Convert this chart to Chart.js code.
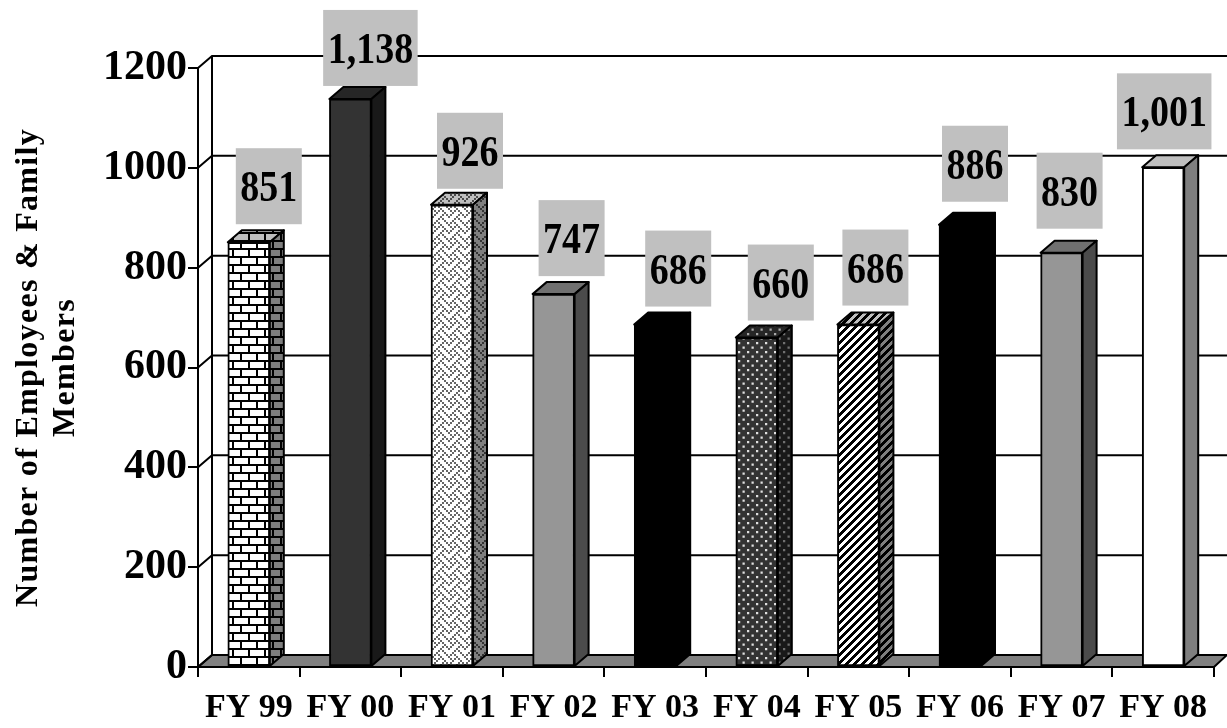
<!DOCTYPE html>
<html>
<head>
<meta charset="utf-8">
<title>Number of Employees & Family Members</title>
<script src="https://cdn.jsdelivr.net/npm/chart.js@4"></script>
<style>
  html, body { margin: 0; padding: 0; background: #fff; overflow: hidden; }
  canvas { display: block; }
</style>
</head>
<body>
<canvas id="chart" width="1227" height="728"></canvas>
<script>
const categories = ["FY 99", "FY 00", "FY 01", "FY 02", "FY 03", "FY 04", "FY 05", "FY 06", "FY 07", "FY 08"];
const employees = [851, 1138, 926, 747, 686, 660, 686, 886, 830, 1001];
const axisTitle = ["Number of Employees & Family", "Members"];
const fillNames = ["brick", "charcoal", "weave", "grey", "black", "dots", "stripes", "black", "grey", "white"];

const SERIF = '"Liberation Serif", "Times New Roman", serif';
const DEPTH_X = 14;
const DEPTH_Y = 12;
// value-label boxes do not sit centred over the bars in the original
const labelShiftX = [20, 20, 18, 18, 23, 24, 17, 15, 8, 1];
const labelGap = [18, 13, 16, 18, 18, 17, 19, 23, 24, 18];

// 1-bit tile, stretched to `size` px and softened a little, wrapping at the edges
function bitPattern(rows, bits, size, fg, bg, blur) {
  const cell = size / bits;
  const tile = document.createElement("canvas");
  tile.width = tile.height = size * 3;
  const t = tile.getContext("2d");
  t.fillStyle = bg;
  t.fillRect(0, 0, size * 3, size * 3);
  t.fillStyle = fg;
  for (let ox = 0; ox < 3; ox++) {
    for (let oy = 0; oy < 3; oy++) {
      rows.forEach((row, r) => {
        for (let b = 0; b < bits; b++) {
          if (row & (1 << (bits - 1 - b))) {
            t.fillRect(ox * size + b * cell, oy * size + r * cell, cell, cell);
          }
        }
      });
    }
  }
  const out = document.createElement("canvas");
  out.width = out.height = size;
  const o = out.getContext("2d");
  o.filter = `blur(${blur}px)`;
  o.drawImage(tile, -size, -size);
  return o.createPattern(out, "repeat");
}

const ctx = document.getElementById("chart").getContext("2d");
const fills = {
  brick: bitPattern([0xff, 0x80, 0x80, 0x80, 0xff, 0x08, 0x08, 0x08], 8, 16, "#000", "#fff", 0.4),
  weave: bitPattern([0x88, 0x54, 0x22, 0x45, 0x88, 0x14, 0x22, 0x51], 8, 16, "#666", "#fff", 0.3),
  dots: bitPattern([0x8, 0x0, 0x2, 0x0], 4, 9, "#e0e0e0", "#333", 0.5),
  stripes: bitPattern([0x0f, 0x1e, 0x3c, 0x78, 0xf0, 0xe1, 0xc3, 0x87], 8, 8, "#000", "#fff", 0.6),
  charcoal: "#333333",
  grey: "#969696",
  black: "#000000",
  white: "#ffffff",
};

function polygon(c, pts) {
  c.beginPath();
  pts.forEach(([x, y], i) => (i ? c.lineTo(x, y) : c.moveTo(x, y)));
  c.closePath();
}

// side walls, floor and back-wall grid of the fake 3D box
const wallsPlugin = {
  id: "walls",
  beforeDatasetsDraw(chart) {
    const c = chart.ctx;
    const { left, right, top, bottom } = chart.chartArea;
    const y = chart.scales.y;
    c.save();
    c.strokeStyle = "#000";
    c.lineWidth = 2;
    polygon(c, [
      [left, bottom],
      [left + DEPTH_X, bottom - DEPTH_Y],
      [chart.width, bottom - DEPTH_Y],
      [right, bottom],
    ]);
    c.fillStyle = "#808080";
    c.fill();
    c.stroke();
    c.beginPath();
    c.moveTo(left + DEPTH_X, top - DEPTH_Y);
    c.lineTo(left + DEPTH_X, bottom - DEPTH_Y);
    y.ticks.forEach((t) => {
      const py = y.getPixelForValue(t.value);
      c.moveTo(left, py);
      c.lineTo(left + DEPTH_X, py - DEPTH_Y);
      c.lineTo(chart.width, py - DEPTH_Y);
    });
    c.stroke();
    c.restore();
  },
};

// top and right face of every bar, drawn behind the front face
const facesPlugin = {
  id: "faces",
  beforeDatasetDraw(chart) {
    const c = chart.ctx;
    c.save();
    c.strokeStyle = "#000";
    c.lineWidth = 2;
    c.lineJoin = "round";
    chart.getDatasetMeta(0).data.forEach((bar, i) => {
      const l = bar.x - bar.width / 2;
      const r = bar.x + bar.width / 2;
      const fill = fills[fillNames[i]];
      const top = [[l, bar.y], [l + DEPTH_X, bar.y - DEPTH_Y], [r + DEPTH_X, bar.y - DEPTH_Y], [r, bar.y]];
      const side = [[r, bar.y], [r + DEPTH_X, bar.y - DEPTH_Y], [r + DEPTH_X, bar.base - DEPTH_Y], [r, bar.base]];
      [[top, 0.25], [side, 0.5]].forEach(([pts, shade]) => {
        polygon(c, pts);
        c.fillStyle = fill;
        c.fill();
        c.fillStyle = `rgba(0,0,0,${shade})`;
        c.fill();
        c.stroke();
      });
    });
    c.restore();
  },
};

// grey value boxes above the bars
const valueBoxPlugin = {
  id: "valueBoxes",
  afterDatasetsDraw(chart) {
    const c = chart.ctx;
    c.save();
    chart.getDatasetMeta(0).data.forEach((bar, i) => {
      const text = employees[i].toLocaleString("en-US");
      c.font = `bold 38px ${SERIF}`;
      const w = c.measureText(text).width + 9;
      const h = 76;
      const cx = bar.x + labelShiftX[i];
      const bottom = bar.y - labelGap[i];
      c.fillStyle = "#c0c0c0";
      c.fillRect(cx - w / 2, bottom - h, w, h);
      c.fillStyle = "#000";
      c.textAlign = "center";
      c.textBaseline = "alphabetic";
      c.save();
      c.translate(cx, bottom - h / 2 + 15);
      c.scale(1, 1.15);
      c.fillText(text, 0, 0);
      c.restore();
    });
    c.restore();
  },
};

// the axis title is letter-spaced in the original, Chart.js has no option for it
const titleSpacingPlugin = {
  id: "titleSpacing",
  beforeDraw(chart) {
    const y = chart.scales.y;
    if (y.spacedTitle) return;
    const drawTitle = y.drawTitle;
    y.drawTitle = function () {
      chart.ctx.letterSpacing = "1.3px";
      drawTitle.call(this);
      chart.ctx.letterSpacing = "0px";
    };
    y.spacedTitle = true;
  },
};

new Chart(ctx, {
  type: "bar",
  data: {
    labels: categories,
    datasets: [
      {
        label: "Number of Employees & Family Members",
        data: employees,
        backgroundColor: fillNames.map((n) => fills[n]),
        borderColor: "#000",
        borderWidth: 2,
        borderSkipped: false,
        barThickness: 42,
      },
    ],
  },
  options: {
    responsive: false,
    animation: false,
    layout: { padding: { top: 68, right: 13, left: 0, bottom: 0 } },
    plugins: { legend: { display: false }, tooltip: { enabled: false } },
    scales: {
      x: {
        afterFit(scale) {
          scale.height = 61;
          scale.paddingLeft = scale.paddingRight = 0;
        },
        grid: { drawOnChartArea: false, color: "#000", lineWidth: 2, tickLength: 10 },
        border: { color: "#000", width: 2 },
        ticks: {
          color: "#000",
          font: { family: SERIF, size: 34, weight: "bold" },
          padding: 11,
          maxRotation: 0,
          autoSkip: false,
        },
      },
      y: {
        min: 0,
        max: 1200,
        afterFit(scale) {
          scale.width = 198;
          scale.paddingTop = scale.paddingBottom = 0;
        },
        grid: { drawOnChartArea: false, color: "#000", lineWidth: 2, tickLength: 10 },
        border: { color: "#000", width: 2 },
        ticks: {
          stepSize: 200,
          color: "#000",
          font: { family: SERIF, size: 42, weight: "bold" },
          padding: 1,
          callback: (v) => String(v),
        },
        title: {
          display: true,
          text: axisTitle,
          color: "#000",
          font: { family: SERIF, size: 32, weight: "bold", lineHeight: 1.16 },
          padding: { top: 10, bottom: 0 },
        },
      },
    },
  },
  plugins: [titleSpacingPlugin, wallsPlugin, facesPlugin, valueBoxPlugin],
});
</script>
</body>
</html>
